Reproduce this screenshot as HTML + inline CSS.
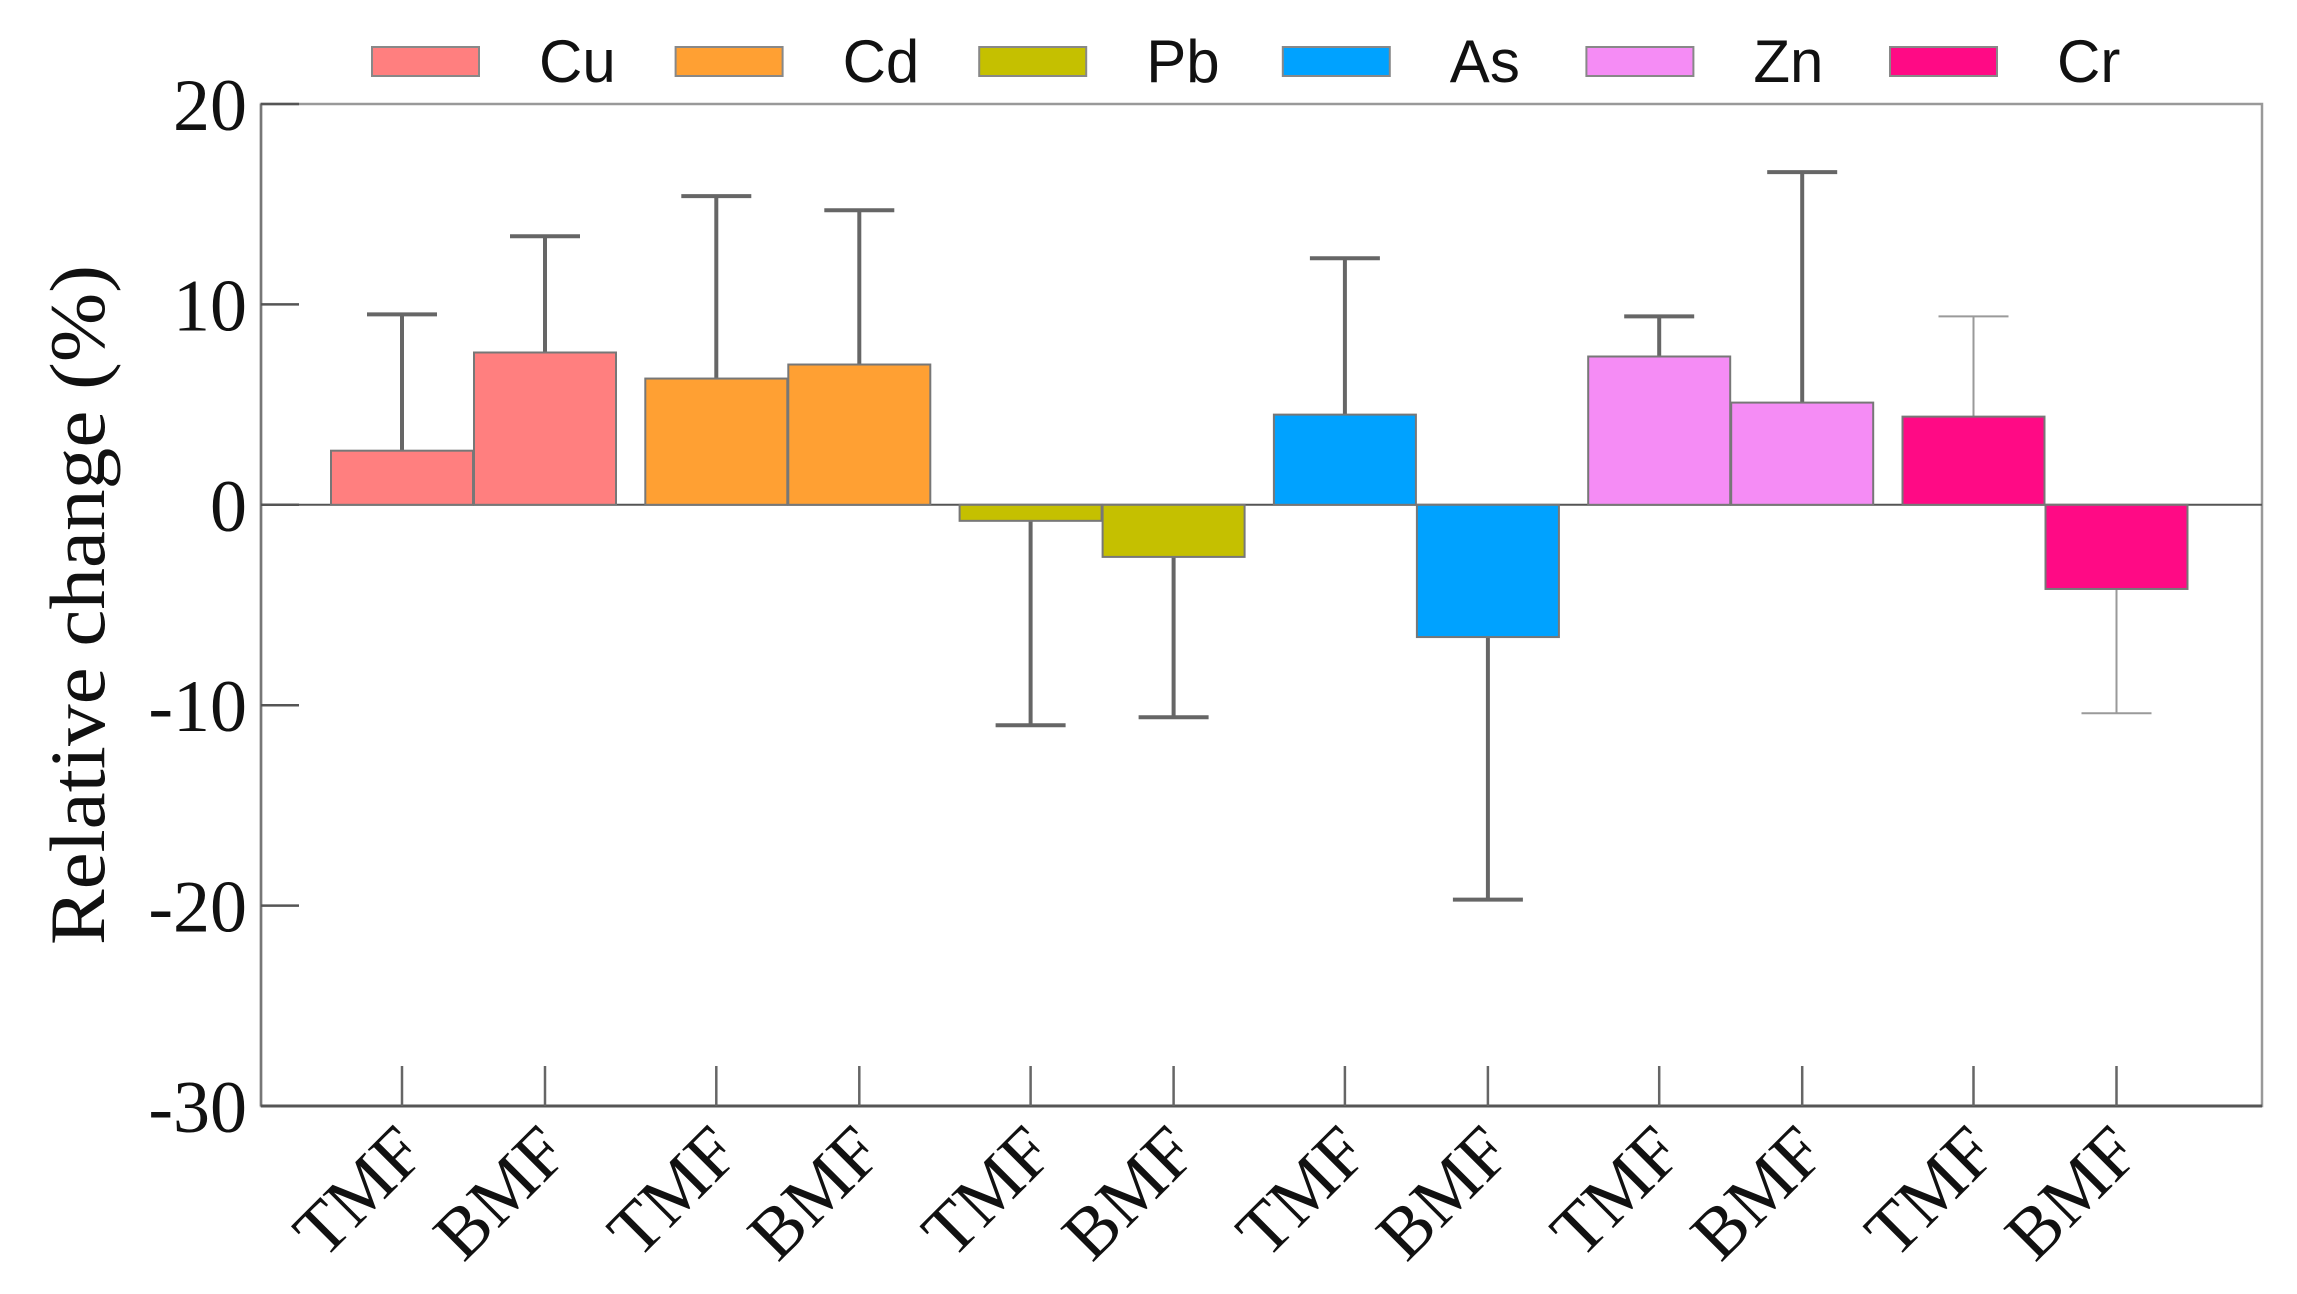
<!DOCTYPE html>
<html><head><meta charset="utf-8"><style>html,body{margin:0;padding:0;background:#fff}svg{display:block}</style></head>
<body>
<svg id="chart" width="2297" height="1294" viewBox="0 0 2297 1294" xmlns="http://www.w3.org/2000/svg">
<rect x="0" y="0" width="2297" height="1294" fill="#fff"/>
<g id="plot"></g>
</svg>
<script>
const elements = ["Cu","Cd","Pb","As","Zn","Cr"];
const colors = ["#ff7f7f","#ffa033","#c5c000","#00a2ff","#f58cf5","#ff0a85"];
const tmfValues = [2.7, 6.3, -0.8, 4.5, 7.4, 4.4];
const bmfValues = [7.6, 7.0, -2.6, -6.6, 5.1, -4.2];
const tmfErr = [9.5, 15.4, -11.0, 12.3, 9.4, 9.4];
const bmfErr = [13.4, 14.7, -10.6, -19.7, 16.6, -10.4];
const yTicks = [20, 10, 0, -10, -20, -30];

const NS = "http://www.w3.org/2000/svg";
const svg = document.getElementById("chart");
const g = document.getElementById("plot");
const L = 261, R = 2262, T = 104, B = 1106, yMax = 20, yMin = -30;
function y(v){ return T + (yMax - v) / (yMax - yMin) * (B - T); }
function xc(group, sub){ return 402 + group * 314.3 + sub * 143; }
const BW = 142;
function mk(tag, attrs, parent){ const e = document.createElementNS(NS, tag); for (const k in attrs) e.setAttribute(k, attrs[k]); (parent||g).appendChild(e); return e; }

let fr = mk("rect", {x:L, y:T, width:R-L, height:B-T, fill:"none", stroke:"#999", "stroke-width":2.5});


let la = mk("line", {x1:L, y1:T, x2:L, y2:B, stroke:"#777", "stroke-width":2.5});


let ba = mk("line", {x1:L, y1:B, x2:R, y2:B, stroke:"#555", "stroke-width":3});



yTicks.forEach(v => {
  const t = mk("line", {x1:L, y1:y(v), x2:L+38, y2:y(v), stroke:"#555", "stroke-width":2.5});
  
  
  const lb = mk("text", {x:247, y:y(v)+26, "text-anchor":"end", "font-family":"Liberation Serif, serif", "font-size":74, fill:"#111"});
  lb.textContent = v;
  
  
});

let z = mk("line", {x1:L, y1:y(0), x2:R, y2:y(0), stroke:"#555", "stroke-width":2});



elements.forEach((el, i) => {
  [[tmfValues, tmfErr, "TMF", 0], [bmfValues, bmfErr, "BMF", 1]].forEach(([vals, errs, lab, sub]) => {
    const cx = xc(i, sub), v = vals[i], e = errs[i];
    const thin = el === "Cr";
    const ec = thin ? "#9a9a9a" : "#666", ew = thin ? 2 : 4;
    const eb = mk("line", {x1:cx, y1:y(v), x2:cx, y2:y(e), stroke:ec, "stroke-width":ew});
    
    
    const cap = mk("line", {x1:cx-35, y1:y(e), x2:cx+35, y2:y(e), stroke:ec, "stroke-width":ew});
    
    
    const top = Math.min(y(v), y(0)), h = Math.abs(y(v) - y(0));
    const r = mk("rect", {x:cx-BW/2, y:top, width:BW, height:h, fill:colors[i], stroke:"#777", "stroke-width":2});
    
    
    const tk = mk("line", {x1:cx, y1:B-40, x2:cx, y2:B, stroke:"#666", "stroke-width":2.5});
    
    
    const tx = mk("text", {x:0, y:0, "text-anchor":"end", "font-family":"Liberation Serif, serif", "font-size":72, fill:"#111", transform:`translate(${cx+26},${B+50}) rotate(-45)`});
    tx.textContent = lab;
    
    
  });
  const lx = 372 + i * 303.6;
  const sw = mk("rect", {x:lx, y:47, width:107, height:29, fill:colors[i], stroke:"#888", "stroke-width":2});
  
  
  const lt = mk("text", {x:lx+167, y:82, "font-family":"Liberation Sans, sans-serif", "font-size":60, fill:"#111"});
  lt.textContent = el;
  
  
});

const yt = mk("text", {x:0, y:0, "text-anchor":"middle", "font-family":"Liberation Serif, serif", "font-size":78, fill:"#111", textLength:680, lengthAdjust:"spacingAndGlyphs", transform:"translate(104,605) rotate(-90)"});
yt.textContent = "Relative change (%)";


</script>
</body></html>
